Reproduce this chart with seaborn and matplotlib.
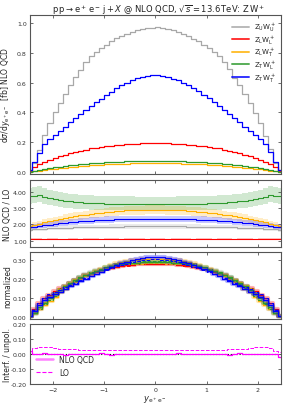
import numpy as np
import pandas as pd
import matplotlib
matplotlib.use("Agg")
import matplotlib.pyplot as plt
from matplotlib.lines import Line2D
from matplotlib.ticker import FormatStrFormatter, FixedLocator
import seaborn as sns

# ---------------- data ----------------
bin_edges = np.linspace(-2.5, 2.5, 51)
bin_centers = 0.5 * (bin_edges[:-1] + bin_edges[1:])

labels = [r"$\mathrm{Z_U W_U^+}$", r"$\mathrm{Z_L W_L^+}$", r"$\mathrm{Z_L W_T^+}$",
          r"$\mathrm{Z_T W_L^+}$", r"$\mathrm{Z_T W_T^+}$"]
colors = ["#a8a8a8", "#ff0000", "#ffb000", "#2e9a2e", "#0000ff"]

# NLO QCD differential cross sections [fb] per bin
xs_UU = [0.010, 0.060, 0.150, 0.245, 0.330, 0.400, 0.465, 0.525, 0.583, 0.635, 0.688, 0.738, 0.778,
         0.808, 0.832, 0.855, 0.877, 0.897, 0.915, 0.930, 0.942, 0.953, 0.961, 0.967, 0.970,
         0.972, 0.966, 0.961, 0.952, 0.943, 0.929, 0.916, 0.896, 0.878, 0.854, 0.833, 0.807,
         0.779, 0.739, 0.689, 0.634, 0.584, 0.524, 0.466, 0.399, 0.331, 0.244, 0.151, 0.060, 0.010]
xs_LL = [0.006, 0.030, 0.052, 0.068, 0.081, 0.093, 0.104, 0.114, 0.124, 0.133, 0.142, 0.150, 0.157,
         0.163, 0.168, 0.173, 0.177, 0.180, 0.183, 0.186, 0.188, 0.190, 0.191, 0.192, 0.192,
         0.192, 0.192, 0.191, 0.190, 0.188, 0.186, 0.183, 0.180, 0.177, 0.173, 0.168, 0.163,
         0.157, 0.150, 0.142, 0.133, 0.124, 0.114, 0.104, 0.093, 0.081, 0.068, 0.052, 0.030, 0.006]
xs_LT = [0.001, 0.004, 0.008, 0.012, 0.0165, 0.0205, 0.025, 0.0285, 0.032, 0.035, 0.038, 0.041,
         0.0435, 0.0458, 0.048, 0.050, 0.052, 0.0535, 0.0547, 0.0557, 0.0565, 0.057, 0.0575, 0.058,
         0.058, 0.058, 0.058, 0.0575, 0.057, 0.0565, 0.0557, 0.0547, 0.0535, 0.052, 0.050, 0.048,
         0.0458, 0.0435, 0.041, 0.038, 0.035, 0.032, 0.0285, 0.025, 0.0205, 0.0165, 0.012, 0.008,
         0.004, 0.001]
xs_TL = [0.002, 0.006, 0.013, 0.019, 0.025, 0.030, 0.035, 0.040, 0.044, 0.048, 0.052, 0.055, 0.058,
         0.060, 0.062, 0.065, 0.066, 0.068, 0.069, 0.070, 0.0705, 0.071, 0.0715, 0.072, 0.072,
         0.072, 0.072, 0.0715, 0.071, 0.0705, 0.070, 0.069, 0.068, 0.066, 0.065, 0.062, 0.060,
         0.058, 0.055, 0.052, 0.048, 0.044, 0.040, 0.035, 0.030, 0.025, 0.019, 0.013, 0.006, 0.002]
xs_TT = [0.010, 0.065, 0.130, 0.185, 0.220, 0.248, 0.276, 0.304, 0.332, 0.360, 0.388, 0.415, 0.442,
         0.468, 0.493, 0.517, 0.540, 0.562, 0.582, 0.600, 0.615, 0.628, 0.638, 0.645, 0.648,
         0.648, 0.644, 0.639, 0.627, 0.616, 0.599, 0.583, 0.561, 0.541, 0.516, 0.494, 0.467,
         0.443, 0.414, 0.389, 0.359, 0.333, 0.303, 0.277, 0.247, 0.221, 0.184, 0.131, 0.064, 0.010]

# NLO QCD / LO K-factors per bin
k_UU = [1.68, 1.70, 1.72, 1.74, 1.76, 1.77, 1.79, 1.80, 1.81, 1.82, 1.83, 1.84, 1.85, 1.85, 1.86,
        1.86, 1.87, 1.87, 1.87, 1.88, 1.88, 1.88, 1.88, 1.88, 1.88,
        1.88, 1.88, 1.88, 1.88, 1.88, 1.88, 1.87, 1.87, 1.87, 1.86, 1.86, 1.85, 1.85, 1.84, 1.83,
        1.82, 1.81, 1.80, 1.79, 1.77, 1.76, 1.74, 1.72, 1.70, 1.68]
k_LL = [1.13, 1.12, 1.12, 1.11, 1.12, 1.12, 1.11, 1.11, 1.12, 1.12, 1.11, 1.12, 1.12, 1.12, 1.11,
        1.12, 1.12, 1.12, 1.11, 1.12, 1.12, 1.12, 1.12, 1.11, 1.12,
        1.12, 1.12, 1.11, 1.12, 1.12, 1.12, 1.12, 1.11, 1.12, 1.12, 1.12, 1.11, 1.12, 1.12, 1.12,
        1.11, 1.12, 1.12, 1.12, 1.11, 1.12, 1.12, 1.12, 1.12, 1.13]
k_LT = [1.88, 1.95, 2.04, 2.12, 2.20, 2.27, 2.33, 2.39, 2.45, 2.50, 2.55, 2.60, 2.64, 2.68, 2.72,
        2.75, 2.78, 2.81, 2.83, 2.85, 2.87, 2.88, 2.89, 2.90, 2.90,
        2.90, 2.90, 2.89, 2.88, 2.87, 2.85, 2.83, 2.81, 2.78, 2.75, 2.72, 2.68, 2.64, 2.60, 2.55,
        2.50, 2.45, 2.39, 2.33, 2.27, 2.20, 2.12, 2.04, 1.95, 1.88]
k_TL = [3.70, 3.74, 3.82, 3.68, 3.60, 3.54, 3.48, 3.44, 3.40, 3.37, 3.34, 3.32, 3.30, 3.29, 3.28,
        3.27, 3.26, 3.26, 3.25, 3.25, 3.25, 3.24, 3.24, 3.24, 3.24,
        3.24, 3.24, 3.24, 3.24, 3.25, 3.25, 3.25, 3.26, 3.26, 3.27, 3.28, 3.29, 3.30, 3.32, 3.34,
        3.37, 3.40, 3.44, 3.48, 3.54, 3.60, 3.68, 3.82, 3.74, 3.70]
k_TT = [1.83, 1.87, 1.91, 1.95, 1.99, 2.03, 2.07, 2.10, 2.13, 2.16, 2.19, 2.21, 2.23, 2.25, 2.26,
        2.28, 2.29, 2.30, 2.31, 2.32, 2.32, 2.33, 2.33, 2.33, 2.33,
        2.33, 2.33, 2.33, 2.33, 2.32, 2.32, 2.31, 2.30, 2.29, 2.28, 2.26, 2.25, 2.23, 2.21, 2.19,
        2.16, 2.13, 2.10, 2.07, 2.03, 1.99, 1.95, 1.91, 1.87, 1.83]
# relative scale-uncertainty of the K-factor (up, down)
k_unc_up = [0.07, 0.02, 0.09, 0.14, 0.09]
k_unc_dn = [0.07, 0.02, 0.10, 0.12, 0.08]

# interference / unpolarised
interf_NLO = [0.020, 0.000, 0.002, 0.008, 0.003, -0.002, 0.001, -0.004, 0.000, 0.003, 0.002, -0.001,
              0.001, 0.000, 0.004, 0.002, -0.003, 0.001, 0.003, 0.000, 0.002, 0.001, -0.002, 0.000,
              0.001, 0.003, -0.001, 0.002, 0.000, 0.005, 0.001, -0.002, 0.000, 0.002, 0.001, -0.001,
              0.003, 0.000, 0.001, -0.003, 0.002, 0.004, 0.000, 0.003, 0.001, 0.002, -0.002, 0.000,
              0.003, -0.020]
interf_LO = [0.020, 0.038, 0.045, 0.048, 0.044, 0.040, 0.036, 0.034, 0.032, 0.031, 0.030, 0.030,
             0.029, 0.029, 0.029, 0.029, 0.029, 0.030, 0.030, 0.030, 0.030, 0.030, 0.030, 0.030,
             0.030, 0.030, 0.030, 0.030, 0.030, 0.030, 0.030, 0.030, 0.030, 0.029, 0.029, 0.029,
             0.029, 0.030, 0.030, 0.031, 0.032, 0.034, 0.036, 0.040, 0.044, 0.048, 0.045, 0.038,
             0.020, 0.015]

series_xs = [xs_UU, xs_LL, xs_LT, xs_TL, xs_TT]
series_k = [k_UU, k_LL, k_LT, k_TL, k_TT]

# ---------------- figure ----------------
sns.set_theme(style="ticks")
plt.rcParams["font.family"] = ["DejaVu Sans"]
plt.rcParams["mathtext.fontset"] = "dejavusans"

fig = plt.figure(figsize=(2.93, 4.10), dpi=100)
L, W = 0.1007, 0.858
ax1 = fig.add_axes([L, 0.573, W, 0.388])
ax2 = fig.add_axes([L, 0.395, W, 0.163])
ax3 = fig.add_axes([L, 0.2195, W, 0.163])
ax4 = fig.add_axes([L, 0.061, W, 0.146])
axes = [ax1, ax2, ax3, ax4]

def ext(a):
    a = np.asarray(a, dtype=float)
    return np.append(a, a[-1])

# panel 1: distributions
for xs, c in zip(series_xs, colors):
    df = pd.DataFrame({"y": bin_centers, "w": np.asarray(xs, dtype=float)})
    sns.histplot(data=df, x="y", weights="w", bins=50, binrange=(-2.5, 2.5), element="step",
                 fill=False, color=c, lw=0.9, ax=ax1)

# panel 2: K-factors with bands
for k, c, up, dn in zip(series_k, colors, k_unc_up, k_unc_dn):
    k = np.asarray(k)
    ax2.fill_between(bin_edges, ext(k * (1 - dn)), ext(k * (1 + up)), step="post",
                     color=c, alpha=0.22, lw=0)
    sns.lineplot(x=bin_edges, y=ext(k), drawstyle="steps-post", color=c, lw=0.8,
                 estimator=None, errorbar=None, sort=False, ax=ax2)

# panel 3: normalised shapes, NLO (solid) and LO (dashed)
bw = 0.1
for xs, k, c in zip(series_xs, series_k, colors):
    xs = np.asarray(xs)
    lo = xs / np.asarray(k)
    n_nlo = xs / (xs.sum() * bw)
    n_lo = lo / (lo.sum() * bw)
    sns.lineplot(x=bin_edges, y=ext(n_nlo), drawstyle="steps-post", color=c, lw=3.0, alpha=0.3,
                 estimator=None, errorbar=None, sort=False, ax=ax3)
    sns.lineplot(x=bin_edges, y=ext(n_lo), drawstyle="steps-post", color=c, lw=0.7,
                 linestyle="--", estimator=None, errorbar=None, sort=False, ax=ax3)
    sns.lineplot(x=bin_edges, y=ext(n_nlo), drawstyle="steps-post", color=c, lw=0.9,
                 estimator=None, errorbar=None, sort=False, ax=ax3)

# panel 4: interference
ax4.axhline(0, color="black", lw=0.8, ls=":", zorder=1)
sns.lineplot(x=bin_edges, y=ext(interf_NLO), drawstyle="steps-post", color="magenta", lw=0.9,
             estimator=None, errorbar=None, sort=False, ax=ax4)
sns.lineplot(x=bin_edges, y=ext(interf_LO), drawstyle="steps-post", color="magenta", lw=0.7,
             linestyle="--", estimator=None, errorbar=None, sort=False, ax=ax4)

# ---------------- cosmetics ----------------
for ax in axes:
    ax.set_xlim(-2.45, 2.45)
    ax.xaxis.set_major_locator(FixedLocator([-2, -1, 0, 1, 2]))
    ax.tick_params(direction="in", top=True, right=True, labelsize=4.5, length=2.5, width=0.5,
                   pad=2, colors="#333333")
    for s in ax.spines.values():
        s.set_linewidth(0.8)
        s.set_color("#555555")
    ax.set_xlabel("")
    ax.yaxis.set_label_coords(-0.07, 0.5)
for ax in [ax1, ax2, ax3]:
    ax.tick_params(labelbottom=False)

ax1.set_ylim(-0.015, 1.055)
ax1.yaxis.set_major_locator(FixedLocator([0.0, 0.2, 0.4, 0.6, 0.8, 1.0]))
ax1.yaxis.set_major_formatter(FormatStrFormatter("%.1f"))
ax1.set_ylabel(r"$\mathrm{d}\sigma/\mathrm{d}y_{\mathrm{e}^+\mathrm{e}^-}$  [fb] NLO QCD", fontsize=5.5)

ax2.set_ylim(0.62, 4.69)
ax2.yaxis.set_major_locator(FixedLocator([1, 2, 3, 4]))
ax2.yaxis.set_major_formatter(FormatStrFormatter("%.2f"))
ax2.set_ylabel("NLO QCD / LO", fontsize=5.5)

ax3.set_ylim(-0.009, 0.34)
ax3.yaxis.set_major_locator(FixedLocator([0.0, 0.1, 0.2, 0.3]))
ax3.yaxis.set_major_formatter(FormatStrFormatter("%.2f"))
ax3.set_ylabel("normalized", fontsize=5.5)

ax4.set_ylim(-0.2, 0.2)
ax4.yaxis.set_major_locator(FixedLocator([-0.2, -0.1, 0.0, 0.1, 0.2]))
ax4.yaxis.set_major_formatter(FormatStrFormatter("%.2f"))
ax4.set_ylabel("Interf. / unpol.", fontsize=5.5)
ax4.set_xlabel(r"$y_{\mathrm{e^+e^-}}$", fontsize=6, labelpad=1)

handles = [Line2D([], [], color=c, lw=1.4, alpha=0.8) for c in colors]
ax1.legend(handles, labels, loc="upper right", frameon=False, fontsize=5.0,
           handlelength=2.4, handletextpad=0.7, labelspacing=0.05, borderaxespad=0.3,
           bbox_to_anchor=(1.0, 0.995))

h2 = [Line2D([], [], color="magenta", lw=1.8, alpha=0.5),
      Line2D([], [], color="magenta", lw=0.8, ls="--")]
ax4.legend(h2, ["NLO QCD", "LO"], loc="lower left", frameon=False, fontsize=5.5,
           handlelength=2.2, labelspacing=0.6, bbox_to_anchor=(0.0, 0.0))

fig.text(0.543, 0.975, r"$\mathrm{p\,p} \to \mathrm{e}^+\,\mathrm{e}^-\,\mathrm{j} + X$ @ NLO QCD, "
         r"$\sqrt{s} = 13.6\,$TeV: $\mathrm{Z\,W}^+$", ha="center", va="center", fontsize=6.0,
         color="#222222")

fig.savefig("out.png", dpi=100)
